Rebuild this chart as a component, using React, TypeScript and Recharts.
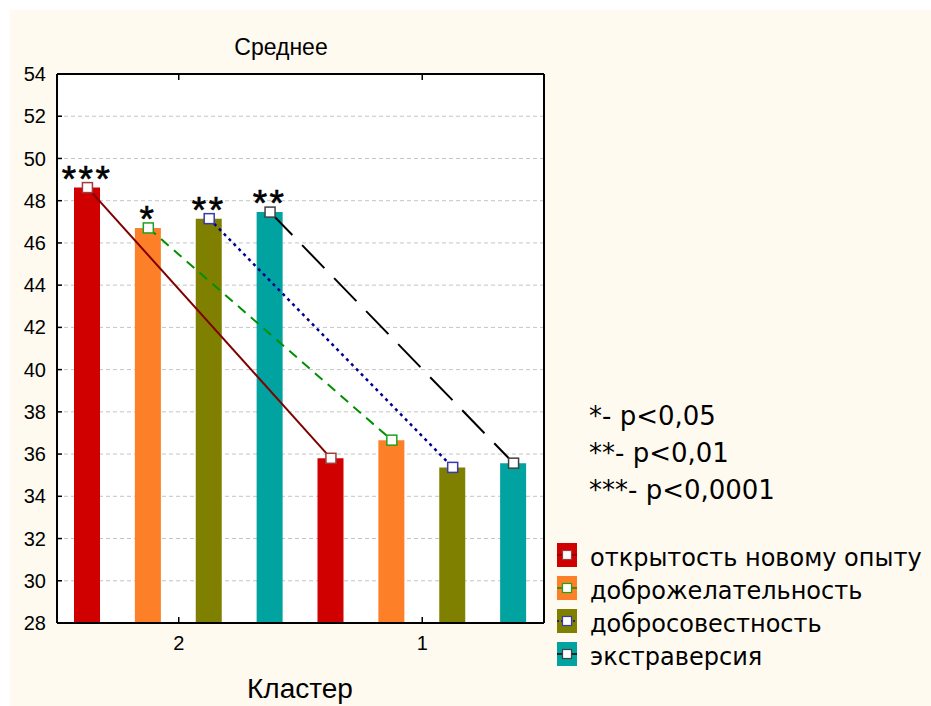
import { ComposedChart, Bar, Line, XAxis, YAxis, CartesianGrid, Cell, LabelList } from "recharts";

const CLUSTERS = ["2", "1"];
const SERIES = ["открытость новому опыту", "доброжелательность", "добросовестность", "экстраверсия"];

// mean per cluster: [cluster 2, cluster 1]
const openness = [48.62, 35.8];
const agreeableness = [46.71, 36.66];
const conscientiousness = [47.15, 35.37];
const extraversion = [47.46, 35.57];
const VALUES = [openness, agreeableness, conscientiousness, extraversion];

const STARS = [["***", ""], ["*", ""], ["**", ""], ["**", ""]];
const NOTES = ["*- p<0,05", "**- p<0,01", "***- p<0,0001"];

const Y_TICKS = [28, 30, 32, 34, 36, 38, 40, 42, 44, 46, 48, 50, 52, 54];
const X_TICKS = [2, 6];

const BAR_COLORS = ["#d00000", "#fd7f28", "#808000", "#00a3a0"];
const LINE_COLORS = ["#800000", "#009000", "#000090", "#000000"];
const MARKER_COLORS = ["#a03c3c", "#20a020", "#3838b0", "#404040"];
const DASHES = ["", "10 7", "3 4", "32 14"];

const rows = CLUSTERS.flatMap((_, ci) =>
  SERIES.map((_, si) => ({
    x: ci * SERIES.length + si + 0.5,
    value: VALUES[si][ci],
    stars: STARS[si][ci],
    si,
    [`s${si}`]: VALUES[si][ci],
  }))
);

const FONT = "'Liberation Sans', Arial, sans-serif";
const WIDE = "'DejaVu Sans', sans-serif";

const squareDot = (color: string) => (p: any) => {
  if (p.value == null || p.cy == null) return <g key={`e${p.index}`} />;
  return (
    <rect key={`d${p.index}`} x={p.cx - 5} y={p.cy - 5} width={10} height={10}
      fill="#fff" stroke={color} strokeWidth={1.5} />
  );
};

const StarLabel = (p: any) => {
  if (!p.value) return null;
  return (
    <text x={Number(p.x) + Number(p.width) / 2} y={Number(p.y) + 4} textAnchor="middle"
      fontSize={37} fontFamily={FONT} letterSpacing={2.5} stroke="#000" strokeWidth={0.6} fill="#000">
      {p.value}
    </text>
  );
};

const tickStyle = { fill: "#000", fontSize: 20, fontFamily: FONT };
const axisLine = { stroke: "#000", strokeWidth: 2 };
const tickLine = { stroke: "#000", strokeWidth: 1.5 };

export default function App() {
  return (
    <div style={{ position: "absolute", left: 0, top: 0, width: 931, height: 706, background: "#fff" }}>
      <div style={{ position: "absolute", left: 10, top: 10, width: 921, height: 696, background: "#fffaf0" }} />
      <div style={{ position: "absolute", left: 0, top: 0 }}>
        <ComposedChart width={931} height={706} data={rows}
          margin={{ top: 73, right: 386, bottom: 53, left: 12 }}>
          <CartesianGrid vertical={false} stroke="#c4c4c4" strokeDasharray="4 3" fill="#fff" />
          <XAxis dataKey="x" type="number" domain={[0, 8]} ticks={X_TICKS} height={30}
            tickFormatter={(v: number) => CLUSTERS[Math.round((v - 2) / 4)]}
            tick={tickStyle} axisLine={axisLine} tickLine={tickLine} tickSize={-6} tickMargin={19} />
          <XAxis xAxisId="top" orientation="top" dataKey="x" type="number" domain={[0, 8]} ticks={X_TICKS}
            height={1} tickFormatter={() => ""} axisLine={axisLine} tickLine={tickLine} tickSize={-6} />
          <YAxis domain={[28, 54]} ticks={Y_TICKS} width={45} interval={0}
            tick={tickStyle} axisLine={axisLine} tickLine={tickLine} tickSize={-5} tickMargin={16} />
          <YAxis yAxisId="right" orientation="right" domain={[28, 54]} ticks={Y_TICKS} width={1} interval={0}
            tickFormatter={() => ""} axisLine={axisLine} tickLine={tickLine} tickSize={-5} />
          <Bar dataKey="value" barSize={26} isAnimationActive={false}>
            {rows.map((r, i) => <Cell key={i} fill={BAR_COLORS[r.si]} />)}
            <LabelList dataKey="stars" content={StarLabel} />
          </Bar>
          {SERIES.map((name, si) => (
            <Line key={name} name={name} dataKey={`s${si}`} type="linear" connectNulls
              stroke={LINE_COLORS[si]} strokeWidth={si === 2 ? 2.5 : 2} strokeDasharray={DASHES[si]}
              dot={squareDot(MARKER_COLORS[si])} activeDot={false} isAnimationActive={false} />
          ))}
        </ComposedChart>
      </div>
      <svg width={931} height={706} style={{ position: "absolute", left: 0, top: 0, pointerEvents: "none" }}>
        <text x={281} y={55} textAnchor="middle" fontSize={23} fontFamily={FONT} fill="#000">Среднее</text>
        <text x={300} y={698} textAnchor="middle" fontSize={28} fontFamily={FONT} fill="#000">Кластер</text>
        {NOTES.map((n, i) => (
          <text key={n} x={589} y={425 + i * 37} fontSize={26} fontFamily={WIDE} fill="#000">{n}</text>
        ))}
        {SERIES.map((name, si) => {
          const cy = 555 + si * 33;
          return (
            <g key={name}>
              <rect x={557} y={cy - 12} width={20} height={24} fill={BAR_COLORS[si]} />
              <line x1={557} x2={577} y1={cy} y2={cy} stroke={LINE_COLORS[si]} strokeWidth={1.5}
                strokeDasharray={si === 2 ? "2 2" : undefined} />
              <rect x={562.5} y={cy - 4.5} width={9} height={9} fill="#fff" stroke={MARKER_COLORS[si]} strokeWidth={1.2} />
              <text x={590} y={cy + 11} fontSize={24} fontFamily={WIDE} fill="#000">{name}</text>
            </g>
          );
        })}
      </svg>
    </div>
  );
}
